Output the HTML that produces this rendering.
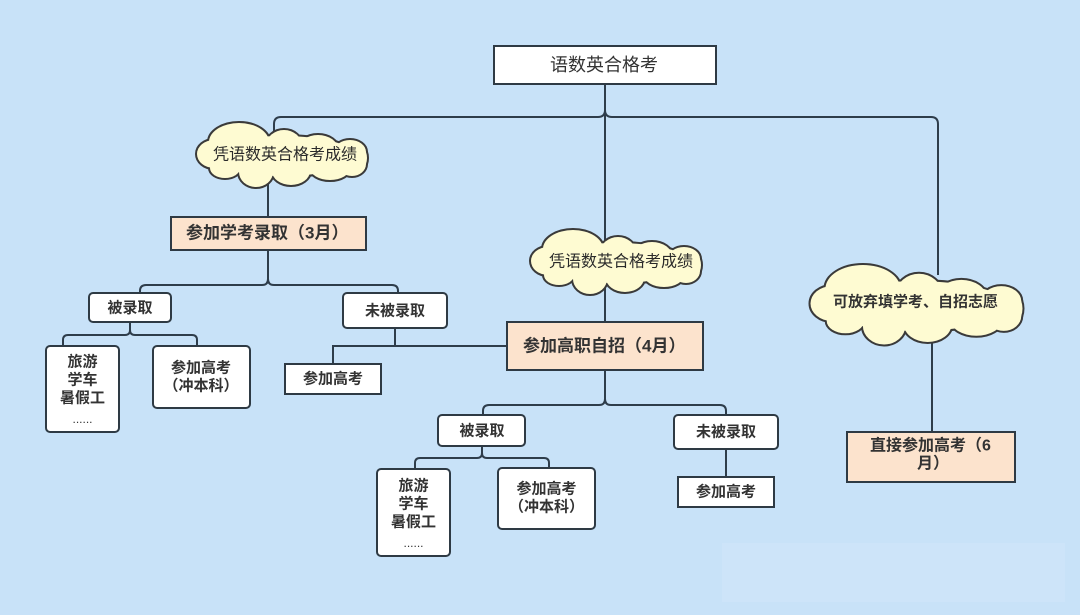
<!DOCTYPE html>
<html>
<head>
<meta charset="utf-8">
<style>
  html,body{margin:0;padding:0;}
  body{width:1080px;height:615px;overflow:hidden;background:#c8e2f8;}
  svg{display:block;}
  .ln{fill:none;stroke:#2e3d4b;stroke-width:2;}
  .bx{stroke:#2e3a44;stroke-width:2;}
  .w{fill:#ffffff;}
  .p{fill:#fce3cd;}
  text{font-family:"Liberation Sans","Noto Sans CJK SC",sans-serif;fill:#333;dominant-baseline:central;}
  .b{font-weight:bold;}
  .s15{font-size:15px;}
  .s16{font-size:16px;}
  .s17{font-size:17px;}
  .s18{font-size:18px;}
  .cs{fill:#3a3a3a;stroke:#3a3a3a;stroke-width:4;}
  .cf{fill:#fefbd2;stroke:none;}
  .ct{fill:#2a2a2a;}
</style>
</head>
<body>
<svg width="1080" height="615" viewBox="0 0 1080 615" xmlns="http://www.w3.org/2000/svg">
  <defs></defs>
  <rect x="0" y="0" width="1080" height="615" fill="#c8e2f8"/>
  <rect x="722" y="543" width="343" height="59" fill="#cde4f9"/>

  <!-- connectors -->
  <path class="ln" d="M605 84 V250"/>
  <path class="ln" d="M605 110 Q605 117 598 117 H281 Q274 117 274 124 V135"/>
  <path class="ln" d="M605 110 Q605 117 612 117 H931 Q938 117 938 124 V275"/>
  <path class="ln" d="M268 180 V217"/>
  <path class="ln" d="M268 250 V279 Q268 285 262 285 H146 Q140 285 140 291 V293"/>
  <path class="ln" d="M268 279 Q268 285 274 285 H392 Q398 285 398 291 V293"/>
  <path class="ln" d="M130 322 V330 Q130 335 125 335 H68 Q63 335 63 340 V346"/>
  <path class="ln" d="M130 330 Q130 335 135 335 H192 Q197 335 197 340 V346"/>
  <path class="ln" d="M395 328 V346"/>
  <path class="ln" d="M333 364 V346 H507"/>
  <path class="ln" d="M605 285 V322"/>
  <path class="ln" d="M605 370 V399 Q605 405 599 405 H489 Q483 405 483 411 V415"/>
  <path class="ln" d="M605 399 Q605 405 611 405 H720 Q726 405 726 411 V415"/>
  <path class="ln" d="M482 446 V453 Q482 458 477 458 H420 Q415 458 415 463 V469"/>
  <path class="ln" d="M482 453 Q482 458 487 458 H544 Q549 458 549 463 V468"/>
  <path class="ln" d="M726 449 V477"/>
  <path class="ln" d="M932 335 V432"/>

  <!-- left cloud -->
  <g>
    <g class="cs">
      <ellipse cx="282" cy="156" rx="74" ry="20"/>
      <ellipse cx="239" cy="142" rx="30" ry="19"/>
      <ellipse cx="284" cy="146" rx="18" ry="16"/>
      <ellipse cx="318" cy="149" rx="20" ry="14"/>
      <ellipse cx="350" cy="152" rx="16" ry="12"/>
      <ellipse cx="353" cy="158" rx="14" ry="16"/>
      <ellipse cx="214" cy="154" rx="17" ry="14"/>
      <ellipse cx="225" cy="168" rx="15" ry="10"/>
      <ellipse cx="256" cy="172" rx="17" ry="15"/>
      <ellipse cx="291" cy="171" rx="19" ry="14"/>
      <ellipse cx="330" cy="168" rx="20" ry="12"/>
      <ellipse cx="352" cy="164" rx="14" ry="12"/>
    </g>
    <g class="cf">
      <ellipse cx="282" cy="156" rx="74" ry="20"/>
      <ellipse cx="239" cy="142" rx="30" ry="19"/>
      <ellipse cx="284" cy="146" rx="18" ry="16"/>
      <ellipse cx="318" cy="149" rx="20" ry="14"/>
      <ellipse cx="350" cy="152" rx="16" ry="12"/>
      <ellipse cx="353" cy="158" rx="14" ry="16"/>
      <ellipse cx="214" cy="154" rx="17" ry="14"/>
      <ellipse cx="225" cy="168" rx="15" ry="10"/>
      <ellipse cx="256" cy="172" rx="17" ry="15"/>
      <ellipse cx="291" cy="171" rx="19" ry="14"/>
      <ellipse cx="330" cy="168" rx="20" ry="12"/>
      <ellipse cx="352" cy="164" rx="14" ry="12"/>
    </g>
  </g>

  <!-- middle cloud -->
  <g transform="translate(334,107)">
    <g class="cs">
      <ellipse cx="282" cy="156" rx="74" ry="20"/>
      <ellipse cx="239" cy="142" rx="30" ry="19"/>
      <ellipse cx="284" cy="146" rx="18" ry="16"/>
      <ellipse cx="318" cy="149" rx="20" ry="14"/>
      <ellipse cx="350" cy="152" rx="16" ry="12"/>
      <ellipse cx="353" cy="158" rx="14" ry="16"/>
      <ellipse cx="214" cy="154" rx="17" ry="14"/>
      <ellipse cx="225" cy="168" rx="15" ry="10"/>
      <ellipse cx="256" cy="172" rx="17" ry="15"/>
      <ellipse cx="291" cy="171" rx="19" ry="14"/>
      <ellipse cx="330" cy="168" rx="20" ry="12"/>
      <ellipse cx="352" cy="164" rx="14" ry="12"/>
    </g>
    <g class="cf">
      <ellipse cx="282" cy="156" rx="74" ry="20"/>
      <ellipse cx="239" cy="142" rx="30" ry="19"/>
      <ellipse cx="284" cy="146" rx="18" ry="16"/>
      <ellipse cx="318" cy="149" rx="20" ry="14"/>
      <ellipse cx="350" cy="152" rx="16" ry="12"/>
      <ellipse cx="353" cy="158" rx="14" ry="16"/>
      <ellipse cx="214" cy="154" rx="17" ry="14"/>
      <ellipse cx="225" cy="168" rx="15" ry="10"/>
      <ellipse cx="256" cy="172" rx="17" ry="15"/>
      <ellipse cx="291" cy="171" rx="19" ry="14"/>
      <ellipse cx="330" cy="168" rx="20" ry="12"/>
      <ellipse cx="352" cy="164" rx="14" ry="12"/>
    </g>
  </g>

  <!-- right cloud -->
  <g transform="translate(813,265) scale(1.247,1.242) translate(-199,-123)">
    <g class="cs">
      <ellipse vector-effect="non-scaling-stroke" cx="282" cy="156" rx="74" ry="20"/>
      <ellipse vector-effect="non-scaling-stroke" cx="239" cy="142" rx="30" ry="19"/>
      <ellipse vector-effect="non-scaling-stroke" cx="284" cy="146" rx="18" ry="16"/>
      <ellipse vector-effect="non-scaling-stroke" cx="318" cy="149" rx="20" ry="14"/>
      <ellipse vector-effect="non-scaling-stroke" cx="350" cy="152" rx="16" ry="12"/>
      <ellipse vector-effect="non-scaling-stroke" cx="353" cy="158" rx="14" ry="16"/>
      <ellipse vector-effect="non-scaling-stroke" cx="214" cy="154" rx="17" ry="14"/>
      <ellipse vector-effect="non-scaling-stroke" cx="225" cy="168" rx="15" ry="10"/>
      <ellipse vector-effect="non-scaling-stroke" cx="256" cy="172" rx="17" ry="15"/>
      <ellipse vector-effect="non-scaling-stroke" cx="291" cy="171" rx="19" ry="14"/>
      <ellipse vector-effect="non-scaling-stroke" cx="330" cy="168" rx="20" ry="12"/>
      <ellipse vector-effect="non-scaling-stroke" cx="352" cy="164" rx="14" ry="12"/>
    </g>
    <g class="cf">
      <ellipse cx="282" cy="156" rx="74" ry="20"/>
      <ellipse cx="239" cy="142" rx="30" ry="19"/>
      <ellipse cx="284" cy="146" rx="18" ry="16"/>
      <ellipse cx="318" cy="149" rx="20" ry="14"/>
      <ellipse cx="350" cy="152" rx="16" ry="12"/>
      <ellipse cx="353" cy="158" rx="14" ry="16"/>
      <ellipse cx="214" cy="154" rx="17" ry="14"/>
      <ellipse cx="225" cy="168" rx="15" ry="10"/>
      <ellipse cx="256" cy="172" rx="17" ry="15"/>
      <ellipse cx="291" cy="171" rx="19" ry="14"/>
      <ellipse cx="330" cy="168" rx="20" ry="12"/>
      <ellipse cx="352" cy="164" rx="14" ry="12"/>
    </g>
  </g>

  <!-- boxes -->
  <rect class="bx w" x="494" y="46" width="222" height="38"/>
  <rect class="bx p" x="171" y="217" width="195" height="33"/>
  <rect class="bx w" x="89" y="293" width="82" height="29" rx="4"/>
  <rect class="bx w" x="343" y="293" width="104" height="35" rx="4"/>
  <rect class="bx w" x="46" y="346" width="73" height="86" rx="4"/>
  <rect class="bx w" x="153" y="346" width="97" height="62" rx="4"/>
  <rect class="bx w" x="285" y="364" width="96" height="30"/>
  <rect class="bx p" x="507" y="322" width="196" height="48"/>
  <rect class="bx w" x="438" y="415" width="87" height="31" rx="4"/>
  <rect class="bx w" x="377" y="469" width="73" height="87" rx="4"/>
  <rect class="bx w" x="498" y="468" width="97" height="61" rx="4"/>
  <rect class="bx w" x="674" y="415" width="104" height="34" rx="4"/>
  <rect class="bx w" x="678" y="477" width="96" height="30"/>
  <rect class="bx p" x="847" y="432" width="168" height="50"/>

  <!-- texts -->
  <text class="s18" x="550" y="65">语数英合格考</text>
  <text class="s16 ct" x="213" y="155">凭语数英合格考成绩</text>
  <text class="s16 ct" x="549" y="262">凭语数英合格考成绩</text>
  <text class="s15 b" x="833" y="302">可放弃填学考、自招志愿</text>

  <text class="s17 b" x="186" y="233">参加学考录取（3月）</text>
  <text class="s17 b" x="523" y="346">参加高职自招（4月）</text>

  <text class="s15 b" x="130" y="308" text-anchor="middle">被录取</text>
  <text class="s15 b" x="395" y="311" text-anchor="middle">未被录取</text>
  <text class="s15 b" x="82.5" y="362" text-anchor="middle">旅游</text>
  <text class="s15 b" x="82.5" y="380" text-anchor="middle">学车</text>
  <text class="s15 b" x="82.5" y="398" text-anchor="middle">暑假工</text>
  <text x="82.5" y="419" text-anchor="middle" style="font-size:12px">......</text>
  <text class="s15 b" x="201" y="368" text-anchor="middle">参加高考</text>
  <text class="s15 b" x="201" y="386" text-anchor="middle">（冲本科）</text>
  <text class="s15 b" x="333" y="379" text-anchor="middle">参加高考</text>

  <text class="s15 b" x="482" y="431" text-anchor="middle">被录取</text>
  <text class="s15 b" x="413.5" y="486" text-anchor="middle">旅游</text>
  <text class="s15 b" x="413.5" y="504" text-anchor="middle">学车</text>
  <text class="s15 b" x="413.5" y="522" text-anchor="middle">暑假工</text>
  <text x="413.5" y="543" text-anchor="middle" style="font-size:12px">......</text>
  <text class="s15 b" x="546.5" y="489" text-anchor="middle">参加高考</text>
  <text class="s15 b" x="546.5" y="507" text-anchor="middle">（冲本科）</text>
  <text class="s15 b" x="726" y="432" text-anchor="middle">未被录取</text>
  <text class="s15 b" x="726" y="492" text-anchor="middle">参加高考</text>

  <text class="s16 b" x="870" y="446">直接参加高考（6</text>
  <text class="s16 b" x="917" y="464">月）</text>
</svg>
</body>
</html>
